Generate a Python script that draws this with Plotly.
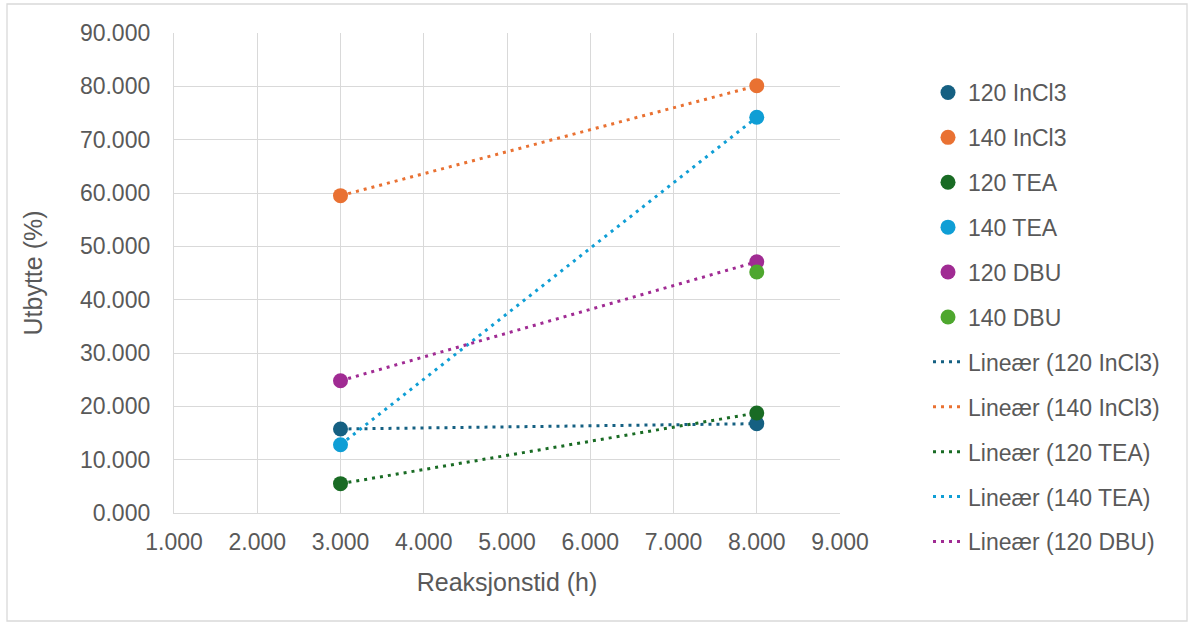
import numpy as np
import plotly.graph_objects as go

# ---- data ----
series_names = ["120 InCl3", "140 InCl3", "120 TEA", "140 TEA", "120 DBU", "140 DBU"]
x_120_incl3 = [3, 8]
y_120_incl3 = [15.75, 16.75]
x_140_incl3 = [3, 8]
y_140_incl3 = [59.5, 80.1]
x_120_tea = [3, 8]
y_120_tea = [5.5, 18.75]
x_140_tea = [3, 8]
y_140_tea = [12.8, 74.2]
x_120_dbu = [3, 8]
y_120_dbu = [24.8, 47.1]
x_140_dbu = [8]
y_140_dbu = [45.2]
trend_series = ["120 InCl3", "140 InCl3", "120 TEA", "140 TEA", "120 DBU"]
x_title = "Reaksjonstid (h)"
y_title = "Utbytte (%)"

colors = {
    "120 InCl3": "#156082",
    "140 InCl3": "#E97132",
    "120 TEA": "#196B24",
    "140 TEA": "#0F9ED5",
    "120 DBU": "#A02B93",
    "140 DBU": "#4EA72E",
}
data = {
    "120 InCl3": (x_120_incl3, y_120_incl3),
    "140 InCl3": (x_140_incl3, y_140_incl3),
    "120 TEA": (x_120_tea, y_120_tea),
    "140 TEA": (x_140_tea, y_140_tea),
    "120 DBU": (x_120_dbu, y_120_dbu),
    "140 DBU": (x_140_dbu, y_140_dbu),
}

FONT = "Liberation Sans"
TXT = "#595959"
GRID = "#D9D9D9"

traces_markers = []
traces_trend = []
rank = 1
for name in series_names:
    xs, ys = data[name]
    traces_markers.append(go.Scatter(
        x=xs, y=ys, mode="markers", name=name,
        marker=dict(size=15, color=colors[name]),
        legendgroup=f"g{rank}", legendrank=rank,
    ))
    rank += 1

for name in trend_series:
    xs, ys = data[name]
    k, b = np.polyfit(xs, ys, 1)
    xt = np.array([min(xs), max(xs)], dtype=float)
    traces_trend.append(go.Scatter(
        x=xt, y=k * xt + b, mode="lines", name=f"Lineær ({name})",
        line=dict(color=colors[name], width=3, dash="3px,5px"),
        legendgroup=f"g{rank}", legendrank=rank,
    ))
    rank += 1

fig = go.Figure(data=traces_trend + traces_markers)

W, H = 1194, 628
L, R, T, B = 174, 840, 33, 513
pw, ph = R - L, B - T

fig.update_layout(
    width=W, height=H,
    margin=dict(l=L, r=W - R, t=T, b=H - B, autoexpand=False),
    paper_bgcolor="white", plot_bgcolor="white",
    font=dict(family=FONT, color=TXT, size=23),
    showlegend=True,
    legend=dict(
        x=(928 - L) / pw, xanchor="left",
        y=(B - 71) / ph, yanchor="top",
        maxheight=600,
        font=dict(size=23, color=TXT),
        tracegroupgap=12, traceorder="grouped",
        bgcolor="rgba(0,0,0,0)",
    ),
    xaxis=dict(
        range=[1, 9], dtick=1, tick0=1, tickformat=".3f",
        showgrid=True, gridcolor=GRID, gridwidth=1.3,
        showline=True, linecolor=GRID, linewidth=1.3, mirror=False,
        zeroline=False, ticks="", ticklabelstandoff=8, automargin=False,
        title=dict(text=x_title, standoff=19, font=dict(size=25)),
        tickfont=dict(size=23),
    ),
    yaxis=dict(
        range=[0, 90], dtick=10, tickformat=".3f",
        showgrid=True, gridcolor=GRID, gridwidth=1.3,
        showline=True, linecolor=GRID, linewidth=1.3,
        zeroline=False, ticks="", ticklabelstandoff=18, automargin=False,
        title=dict(text=y_title, standoff=30, font=dict(size=25)),
        tickfont=dict(size=23),
    ),
)

# chart-area border
fig.add_shape(type="rect", xref="paper", yref="paper",
              x0=(7 - L) / pw, x1=(1187 - L) / pw,
              y0=(B - 621) / ph, y1=(B - 4) / ph,
              line=dict(color="#D9D9D9", width=1.3), layer="below")

fig.write_html("out.html")
